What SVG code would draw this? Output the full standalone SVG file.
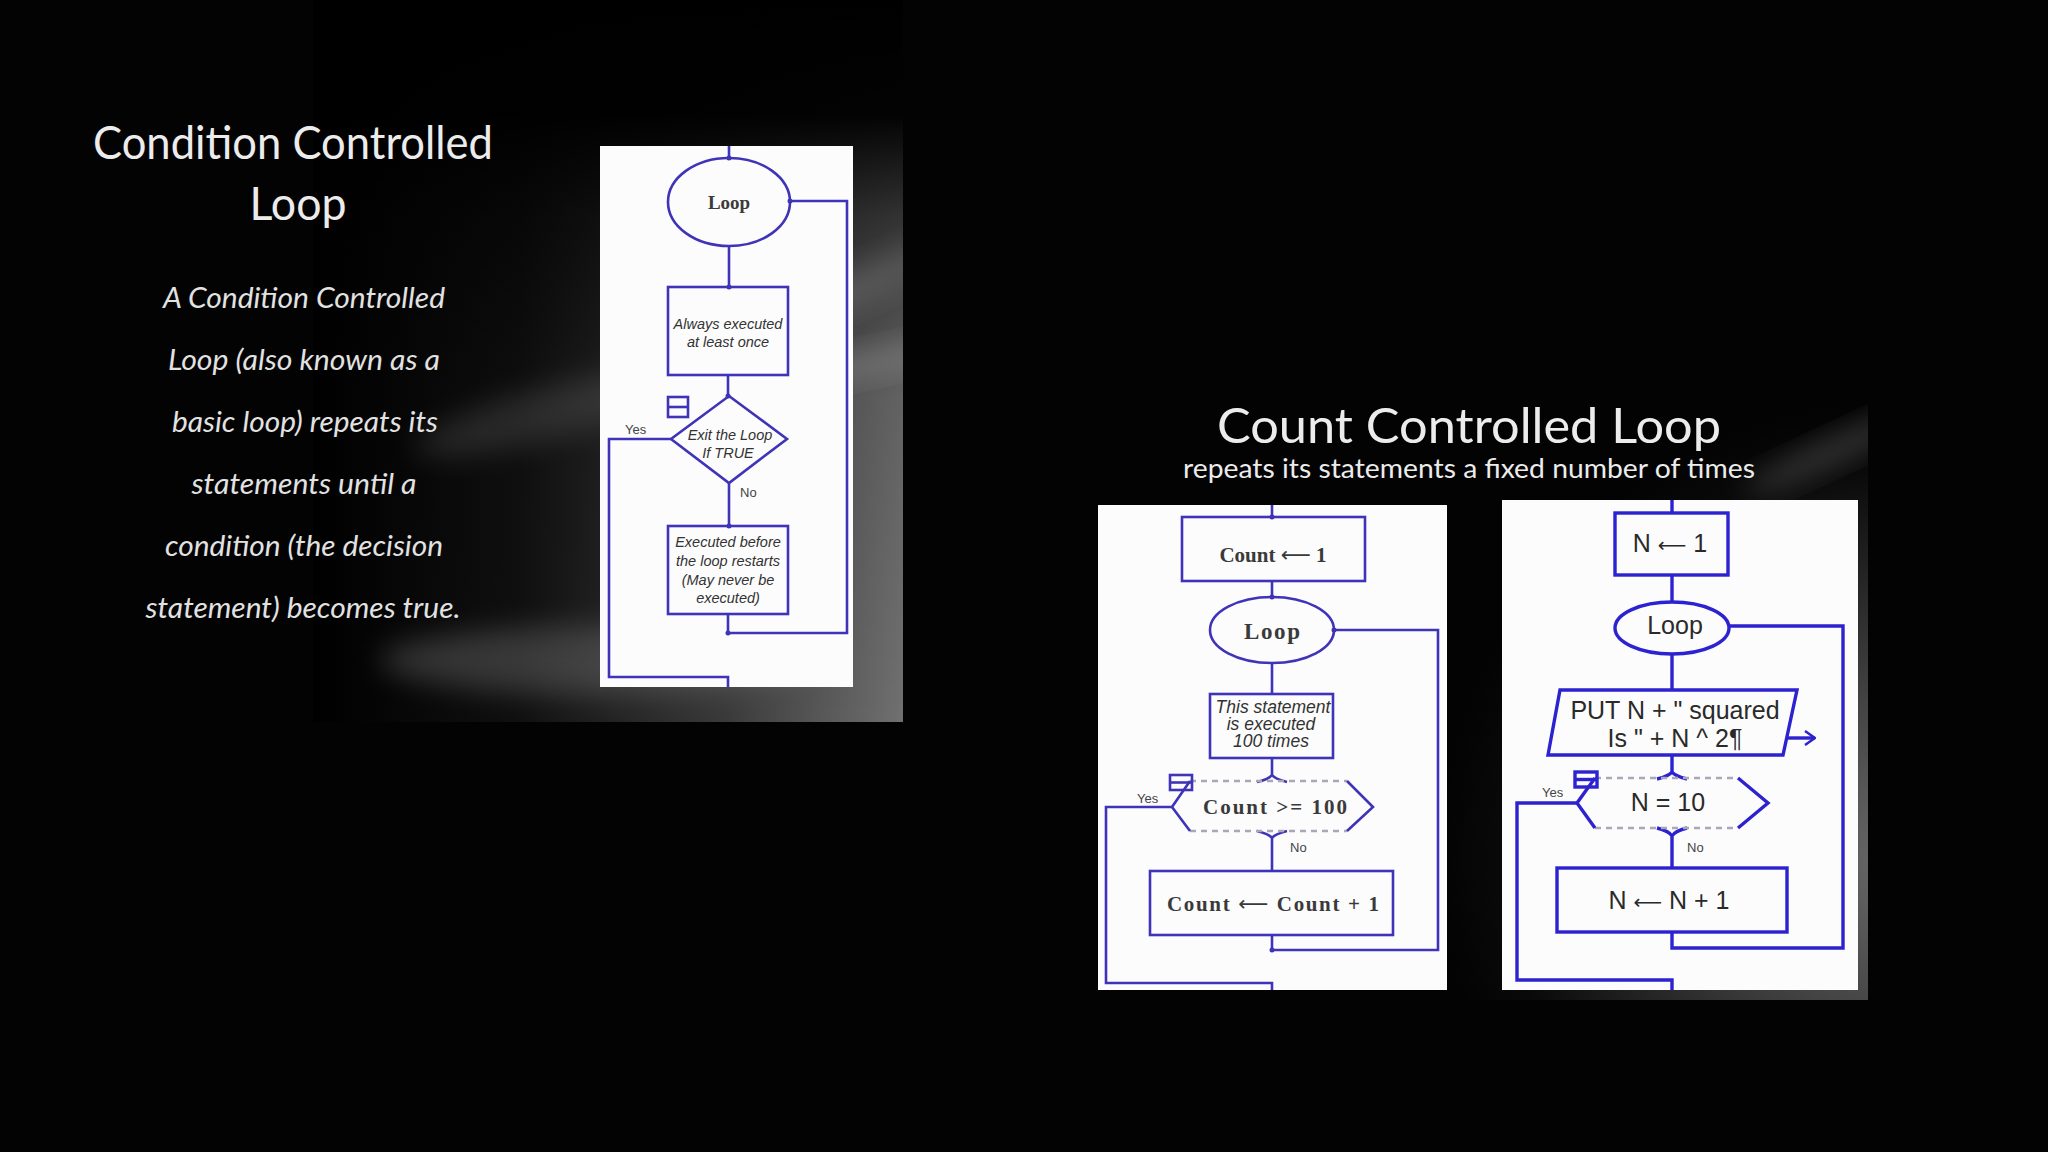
<svg xmlns="http://www.w3.org/2000/svg" width="2048" height="1152" viewBox="0 0 2048 1152">
<defs>
<linearGradient id="lgH" x1="0" y1="0" x2="1" y2="0">
<stop offset="0" stop-color="#000"/>
<stop offset="0.35" stop-color="#101010"/>
<stop offset="0.7" stop-color="#3a3a3a"/>
<stop offset="1" stop-color="#707070"/>
</linearGradient>
<linearGradient id="lgV" x1="0" y1="0" x2="0" y2="1">
<stop offset="0" stop-color="#000" stop-opacity="1"/>
<stop offset="0.16" stop-color="#000" stop-opacity="0.97"/>
<stop offset="0.3" stop-color="#000" stop-opacity="0.55"/>
<stop offset="0.55" stop-color="#000" stop-opacity="0.12"/>
<stop offset="1" stop-color="#000" stop-opacity="0"/>
</linearGradient>
<radialGradient id="rgR" cx="1900" cy="860" r="540" gradientUnits="userSpaceOnUse">
<stop offset="0" stop-color="#6a6a6a"/>
<stop offset="0.4" stop-color="#363636"/>
<stop offset="0.72" stop-color="#0a0a0a"/>
<stop offset="0.85" stop-color="#030303"/>
<stop offset="1" stop-color="#030303"/>
</radialGradient>
<filter id="blur" x="-50%" y="-50%" width="200%" height="200%"><feGaussianBlur stdDeviation="14"/></filter>
<clipPath id="clipL"><rect x="313" y="0" width="590" height="722"/></clipPath>
<clipPath id="clipR"><rect x="1300" y="380" width="568" height="620"/></clipPath>
<marker id="openArrow" viewBox="0 0 12 16" refX="11" refY="8" markerWidth="12" markerHeight="16" markerUnits="userSpaceOnUse" orient="auto">
<path d="M1,1 L11,8 L1,15" fill="none" stroke="#2d22d0" stroke-width="2.5"/>
</marker>
<style>
.title{font-family:Lato,"Open Sans",sans-serif;fill:#ececec;}
.body{font-family:Lato,"Open Sans",sans-serif;font-style:italic;fill:#e2e2e2;font-size:28px;}
.panel{fill:#fcfcfc;}
.ln{fill:none;stroke:#3f33b8;stroke-width:2.6;}
.lnR{fill:none;stroke:#2d22d0;stroke-width:3.4;}
.shape{fill:none;stroke:#3f33b8;stroke-width:2.6;}
.shapeR{fill:none;stroke:#2d22d0;stroke-width:3.4;}
.dash{fill:none;stroke:#a8a8b8;stroke-width:2.4;stroke-dasharray:6 5;}
.it{font-family:"Liberation Sans",Arial,sans-serif;font-style:italic;fill:#333;text-anchor:middle;}
.serif{font-family:"Liberation Serif","Times New Roman",serif;font-weight:bold;fill:#3a3a3a;text-anchor:middle;}
.arr{font-family:"DejaVu Sans",sans-serif;font-weight:normal;}
.sans{font-family:"Liberation Sans",Arial,sans-serif;fill:#2a2a2a;text-anchor:middle;font-size:25px;}
.lbl{font-family:"Liberation Sans",Arial,sans-serif;fill:#444;font-size:13px;}
.dot{fill:#3f33b8;}
</style>
</defs>
<rect x="0" y="0" width="2048" height="1152" fill="#030303"/>
<g id="background-left" clip-path="url(#clipL)">
<rect x="313" y="0" width="590" height="722" fill="url(#lgH)"/>
<ellipse cx="870" cy="280" rx="130" ry="18" fill="#d0d0d0" opacity="0.4" filter="url(#blur)" transform="rotate(-25 870 280)"/>
<ellipse cx="880" cy="360" rx="120" ry="14" fill="#d0d0d0" opacity="0.35" filter="url(#blur)" transform="rotate(-12 880 360)"/>
<ellipse cx="560" cy="410" rx="150" ry="26" fill="#8a8a8a" opacity="0.25" filter="url(#blur)" transform="rotate(-15 560 410)"/>
<ellipse cx="600" cy="660" rx="220" ry="34" fill="#9a9a9a" opacity="0.3" filter="url(#blur)"/>
<rect x="313" y="0" width="590" height="722" fill="url(#lgV)"/>
</g>
<g id="background-right" clip-path="url(#clipR)">
<rect x="1300" y="380" width="568" height="620" fill="url(#rgR)"/>
<ellipse cx="1835" cy="450" rx="100" ry="14" fill="#a0a0a0" opacity="0.28" filter="url(#blur)" transform="rotate(-25 1835 450)"/>
</g>

<g id="title-condition">
<text class="title" x="293" y="159" font-size="46" text-anchor="middle" textLength="400" lengthAdjust="spacingAndGlyphs">Condition Controlled</text>
<text class="title" x="298" y="220" font-size="46" text-anchor="middle" textLength="97" lengthAdjust="spacingAndGlyphs">Loop</text>
</g>
<g id="description">
<text class="body" x="304" y="308" text-anchor="middle" textLength="282" lengthAdjust="spacingAndGlyphs">A Condition Controlled</text>
<text class="body" x="304" y="370" text-anchor="middle" textLength="272" lengthAdjust="spacingAndGlyphs">Loop (also known as a</text>
<text class="body" x="305" y="432" text-anchor="middle" textLength="266" lengthAdjust="spacingAndGlyphs">basic loop) repeats its</text>
<text class="body" x="304" y="494" text-anchor="middle" textLength="225" lengthAdjust="spacingAndGlyphs">statements until a</text>
<text class="body" x="304" y="556" text-anchor="middle" textLength="278" lengthAdjust="spacingAndGlyphs">condition (the decision</text>
<text class="body" x="303" y="618" text-anchor="middle" textLength="315" lengthAdjust="spacingAndGlyphs">statement) becomes true.</text>
</g>
<g id="title-count">
<text class="title" x="1469" y="443" font-size="48" text-anchor="middle" textLength="504" lengthAdjust="spacingAndGlyphs">Count Controlled Loop</text>
<text class="title" x="1469" y="478" font-size="26" text-anchor="middle" textLength="572" lengthAdjust="spacingAndGlyphs">repeats its statements a fixed number of times</text>
</g>

<!-- Left flowchart -->
<rect id="panel-left" class="panel" x="600" y="146" width="253" height="541"/>
<g id="connectors-left">
<path class="ln" d="M729,146 V158"/>
<path class="ln" d="M729,246 V287"/>
<path class="ln" d="M728,375 V396"/>
<path class="ln" d="M729,483 V526"/>
<path class="ln" d="M790,201 H847 V633 H728 V614"/>
<path class="ln" d="M671,439 H609 V677 H728 V687"/>
<circle class="dot" cx="729" cy="158" r="2.5"/>
<circle class="dot" cx="790" cy="201" r="2.5"/>
<circle class="dot" cx="729" cy="287" r="2.5"/>
<circle class="dot" cx="728" cy="396" r="2.5"/>
<circle class="dot" cx="729" cy="526" r="2.5"/>
<circle class="dot" cx="728" cy="633" r="2.5"/>
<text class="lbl" x="625" y="434">Yes</text>
<text class="lbl" x="740" y="497">No</text>
</g>
<g id="left-loop">
<ellipse class="shape" cx="729" cy="202" rx="61" ry="44"/>
<text class="serif" x="729" y="209" font-size="19" textLength="42" lengthAdjust="spacing">Loop</text>
</g>
<g id="left-always">
<rect class="shape" x="668" y="287" width="120" height="88"/>
<text class="it" x="728" y="329" font-size="14.5">Always executed</text>
<text class="it" x="728" y="347" font-size="14.5">at least once</text>
</g>
<g id="left-decision">
<polygon class="shape" points="729,396 787,439 729,483 671,439"/>
<text class="it" x="730" y="440" font-size="14.5">Exit the Loop</text>
<text class="it" x="728" y="458" font-size="14.5">If TRUE</text>
<rect class="shape" x="668" y="397" width="20" height="20"/>
<path class="ln" d="M668,407 H688"/>
</g>
<g id="left-executed">
<rect class="shape" x="668" y="526" width="120" height="88"/>
<text class="it" x="728" y="547" font-size="14.5">Executed before</text>
<text class="it" x="728" y="566" font-size="14.5">the loop restarts</text>
<text class="it" x="728" y="585" font-size="14.5">(May never be</text>
<text class="it" x="728" y="603" font-size="14.5">executed)</text>
</g>

<!-- Middle flowchart -->
<rect id="panel-middle" class="panel" x="1098" y="505" width="349" height="485"/>
<g id="connectors-middle">
<path class="ln" d="M1272,505 V517"/>
<path class="ln" d="M1272,581 V597"/>
<path class="ln" d="M1272,663 V694"/>
<path class="ln" d="M1272,758 V775 M1257,782 Q1269,779 1272,775 Q1275,779 1287,782"/>
<path class="ln" d="M1257,831 Q1269,834 1272,838 Q1275,834 1287,831 M1272,838 V871"/>
<path class="ln" d="M1334,630 H1438 V950 H1272 V935"/>
<path class="ln" d="M1172,807 H1106 V983 H1272 V990"/>
<circle class="dot" cx="1272" cy="517" r="2.5"/>
<circle class="dot" cx="1272" cy="597" r="2.5"/>
<circle class="dot" cx="1334" cy="630" r="2.5"/>
<circle class="dot" cx="1272" cy="950" r="2.5"/>
<text class="lbl" x="1137" y="803">Yes</text>
<text class="lbl" x="1290" y="852">No</text>
</g>
<g id="mid-count1">
<rect class="shape" x="1182" y="517" width="183" height="64"/>
<text class="serif" x="1273" y="562" font-size="21">Count <tspan class="arr">⟵</tspan> 1</text>
</g>
<g id="mid-loop">
<ellipse class="shape" cx="1272" cy="630" rx="62" ry="33"/>
<text class="serif" x="1272" y="639" font-size="23" textLength="56" lengthAdjust="spacing">Loop</text>
</g>
<g id="mid-statement">
<rect class="shape" x="1210" y="694" width="123" height="64"/>
<text class="it" x="1273" y="713" font-size="17.5">This statement</text>
<text class="it" x="1271" y="730" font-size="17.5">is executed</text>
<text class="it" x="1271" y="747" font-size="17.5">100 times</text>
</g>
<g id="mid-decision">
<path class="dash" d="M1190,781 H1347 M1190,831 H1347"/>
<path class="shape" d="M1190,781 L1172,807 L1190,831 M1347,781 L1373,807 L1347,831"/>
<text class="serif" x="1275" y="814" font-size="21" textLength="144" lengthAdjust="spacing">Count &gt;= 100</text>
<rect class="shape" x="1170" y="775" width="22" height="15"/>
<path class="ln" d="M1170,782.5 H1192"/>
</g>
<g id="mid-increment">
<rect class="shape" x="1150" y="871" width="243" height="64"/>
<text class="serif" x="1273" y="911" font-size="21" textLength="212" lengthAdjust="spacing">Count <tspan class="arr">⟵</tspan> Count + 1</text>
</g>

<!-- Right flowchart -->
<rect id="panel-right" class="panel" x="1502" y="500" width="356" height="490"/>
<g id="connectors-right">
<path class="lnR" d="M1672,500 V513"/>
<path class="lnR" d="M1672,575 V602"/>
<path class="lnR" d="M1672,654 V690"/>
<path class="lnR" d="M1672,755 V772 M1657,779 Q1669,776 1672,772 Q1675,776 1687,779"/>
<path class="lnR" d="M1657,828 Q1669,831 1672,836 Q1675,831 1687,828 M1672,836 V868"/>
<path class="lnR" d="M1730,626 H1843 V948 H1672 V932"/>
<path class="lnR" d="M1577,803 H1517 V980 H1672 V990"/>
<path class="lnR" d="M1786,738 H1815" marker-end="url(#openArrow)"/>
<text class="lbl" x="1542" y="797" font-size="10">Yes</text>
<text class="lbl" x="1687" y="852" font-size="10">No</text>
</g>
<g id="right-n1">
<rect class="shapeR" x="1615" y="513" width="113" height="62"/>
<text class="sans" x="1670" y="552">N <tspan class="arr" font-size="20">⟵</tspan> 1</text>
</g>
<g id="right-loop">
<ellipse class="shapeR" cx="1672" cy="628" rx="57" ry="26"/>
<text class="sans" x="1675" y="634">Loop</text>
</g>
<g id="right-put">
<polygon class="shapeR" points="1560,690 1797,690 1783,755 1548,755"/>
<text class="sans" x="1675" y="719">PUT N + " squared</text>
<text class="sans" x="1675" y="747">Is " + N ^ 2¶</text>
</g>
<g id="right-decision">
<path class="dash" d="M1595,778 H1738 M1595,828 H1738"/>
<path class="shapeR" d="M1595,778 L1577,803 L1595,828 M1738,778 L1768,803 L1738,828"/>
<text class="sans" x="1668" y="811">N = 10</text>
<rect class="shapeR" x="1575" y="772" width="22" height="15"/>
<path class="lnR" d="M1575,779.5 H1597"/>
</g>
<g id="right-increment">
<rect class="shapeR" x="1557" y="868" width="230" height="64"/>
<text class="sans" x="1669" y="909">N <tspan class="arr" font-size="20">⟵</tspan> N + 1</text>
</g>
</svg>
